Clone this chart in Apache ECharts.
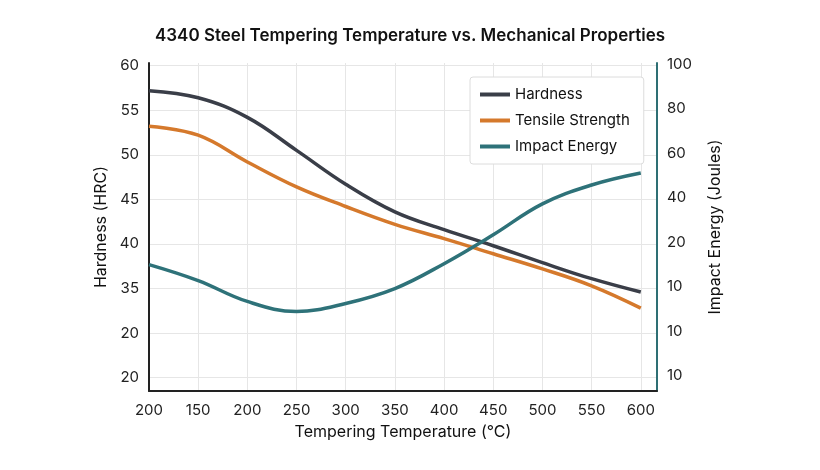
<!DOCTYPE html>
<html><head><meta charset="utf-8">
<script src="https://cdn.jsdelivr.net/npm/echarts@6/dist/echarts.min.js"></script>
<style>html,body{margin:0;background:#fff}#c{width:820px;height:470px}</style>
</head><body><div id="c"></div>
<script>
const xLabels = ['200','150','200','250','300','350','400','450','500','550','600'];
const leftTickValues = [25,30,35,40,45,50,55,60];
const leftTickLabels = ['20','20','35','40','45','50','55','60'];
const rightTickValues = [-40,-20,0,20,40,60,80,100];
const rightTickLabels = ['10','10','10','20','40','60','80','100'];
const hardness = [57.2,56.4,54.2,50.5,46.7,43.6,41.6,39.8,37.9,36.1,34.6];
const tensile = [53.2,52.2,49.2,46.4,44.2,42.2,40.6,38.9,37.2,35.3,32.8];
const impact = [9.9,2.7,-6.7,-11.2,-7.6,-0.9,10.3,23.3,37.2,45.7,51.1];
const pts = a => a.map((v,i)=>[i,v]);
const font = 'Inter, "Noto Sans", sans-serif';
const chart = echarts.init(document.getElementById('c'));
const gridLine = {show:true,lineStyle:{color:'#e6e6e6',width:1}};
chart.setOption({
  animation:false,
  textStyle:{fontFamily:font},
  title:{text:'4340 Steel Tempering Temperature vs. Mechanical Properties',left:'center',top:22,
    textStyle:{fontSize:17,fontWeight:600,color:'#111',fontFamily:font}},
  legend:{orient:'vertical',left:470,top:77,padding:[10,14,10,10],itemGap:11,itemWidth:30,itemHeight:4,
    backgroundColor:'#fff',borderColor:'#dcdcdc',borderWidth:1,borderRadius:3,icon:'rect',
    textStyle:{fontSize:15,color:'#111'},data:['Hardness','Tensile Strength','Impact Energy']},
  grid:{left:149,right:163,top:63,bottom:79},
  xAxis:{type:'value',min:0,max:10.33,name:'Tempering Temperature (°C)',nameLocation:'middle',nameGap:33,
    nameTextStyle:{fontSize:16,color:'#111'},
    axisLine:{onZero:false,lineStyle:{color:'#222',width:2}},axisTick:{show:false,customValues:[0,1,2,3,4,5,6,7,8,9,10]},
    axisLabel:{customValues:[0,1,2,3,4,5,6,7,8,9,10],formatter:v=>xLabels[Math.round(v)],fontSize:15,color:'#222',margin:12},
    splitLine:gridLine},
  yAxis:[{type:'value',min:23.5,max:60.3,name:'Hardness (HRC)',nameLocation:'middle',nameGap:38,
    nameTextStyle:{fontSize:16,color:'#111'},
    axisLine:{show:true,onZero:false,lineStyle:{color:'#222',width:2}},axisTick:{show:false,customValues:leftTickValues},
    axisLabel:{customValues:leftTickValues,formatter:v=>leftTickLabels[leftTickValues.indexOf(v)],fontSize:15,color:'#222',margin:10},
    splitLine:gridLine},
   {type:'value',position:'right',min:-47,max:100.6,name:'Impact Energy (Joules)',nameLocation:'middle',nameGap:50,
    nameTextStyle:{fontSize:16,color:'#111'},
    axisLine:{show:true,onZero:false,lineStyle:{color:'#2e6f74',width:2}},axisTick:{show:false,customValues:rightTickValues},
    axisLabel:{customValues:rightTickValues,formatter:v=>rightTickLabels[rightTickValues.indexOf(v)],fontSize:15,color:'#222',margin:10},
    splitLine:{show:false}}],
  series:[
    {name:'Hardness',type:'line',smooth:0.4,showSymbol:false,data:pts(hardness),color:'#3a3e48',lineStyle:{width:3.5}},
    {name:'Tensile Strength',type:'line',smooth:0.4,showSymbol:false,data:pts(tensile),color:'#d5792c',lineStyle:{width:3.5}},
    {name:'Impact Energy',type:'line',yAxisIndex:1,smooth:0.4,showSymbol:false,data:pts(impact),color:'#2e7279',lineStyle:{width:3.5}}
  ]
});
</script></body></html>
